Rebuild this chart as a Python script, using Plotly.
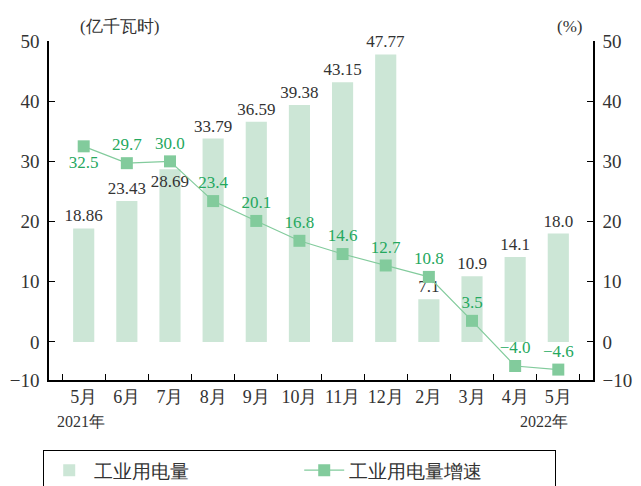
import plotly.graph_objects as go

months = ["5月", "6月", "7月", "8月", "9月", "10月", "11月", "12月", "2月", "3月", "4月", "5月"]
cats = [f"{i}_{m}" for i, m in enumerate(months)]
usage = [18.86, 23.43, 28.69, 33.79, 36.59, 39.38, 43.15, 47.77, 7.1, 10.9, 14.1, 18.0]
usage_text = ["18.86", "23.43", "28.69", "33.79", "36.59", "39.38", "43.15", "47.77", "7.1", "10.9", "14.1", "18.0"]
usage_pos = ["outside", "outside", "inside"] + ["outside"] * 9
growth = [32.5, 29.7, 30.0, 23.4, 20.1, 16.8, 14.6, 12.7, 10.8, 3.5, -4.0, -4.6]
growth_text = ["32.5", "29.7", "30.0", "23.4", "20.1", "16.8", "14.6", "12.7", "10.8", "3.5", "−4.0", "−4.6"]
growth_pos = ["bottom center"] + ["top center"] * 11

y_bottom = -6.33
tickvals = [y_bottom, 0, 10, 20, 30, 40, 50]
ticktext = ["−10", "0", "10", "20", "30", "40", "50"]

serif = "Liberation Serif"

fig = go.Figure()
fig.add_trace(go.Bar(
    x=cats, y=usage, name="工业用电量",
    marker=dict(color="#cce6d6", line=dict(width=0)),
    text=usage_text, textposition=usage_pos, constraintext="none",
    insidetextanchor="end", textangle=0,
    textfont=dict(family=serif, size=17, color="#333333"),
    insidetextfont=dict(family=serif, size=17, color="#333333"),
    outsidetextfont=dict(family=serif, size=17, color="#333333"),
    cliponaxis=False, width=0.49,
))
fig.add_trace(go.Scatter(
    x=cats, y=growth, name="工业用电量增速", yaxis="y2",
    mode="lines+markers+text",
    line=dict(color="#82cb9c", width=1.2),
    marker=dict(symbol="square", size=12, color="#82cb9c"),
    text=growth_text, textposition=growth_pos,
    textfont=dict(family=serif, size=17, color="#25a85e"),
    cliponaxis=False,
))

axis_common = dict(
    range=[y_bottom, 50], tickvals=tickvals, ticktext=ticktext,
    showgrid=False, zeroline=False, showline=True, linecolor="#000000", linewidth=1.5,
    ticks="inside", ticklen=6, tickcolor="#000000", tickwidth=1.2,
    tickfont=dict(family=serif, size=19, color="#333333"),
    automargin=False,
)

fig.update_layout(
    width=633, height=478,
    margin=dict(l=41, r=48, t=33, b=106, autoexpand=False),
    paper_bgcolor="white", plot_bgcolor="white",
    font=dict(family=serif),
    showlegend=True,
    bargap=0.5,
    uniformtext=dict(mode=False),
    xaxis=dict(
        tickvals=cats, ticktext=months, tickangle=0,
        showline=True, linecolor="#000000", linewidth=1.5,
        ticks="inside", ticklen=6, tickcolor="#000000", tickson="boundaries",
        tickfont=dict(family=serif, size=18, color="#333333"),
        showgrid=False, automargin=False,
    ),
    yaxis=dict(**axis_common, side="left", ticklabelstandoff=4),
    yaxis2=dict(**axis_common, side="right", overlaying="y", ticklabelstandoff=4),
    legend=dict(
        orientation="h", x=-0.011, y=-0.207, xanchor="left", yanchor="top",
        bordercolor="#000000", borderwidth=1.2,
        font=dict(family=serif, size=19, color="#333333"),
        entrywidth=200, itemwidth=40,
    ),
    annotations=[
        dict(text="(亿千瓦时)", x=0.053, y=1.077, xref="paper", yref="paper",
             showarrow=False, font=dict(family=serif, size=17, color="#333333")),
        dict(text="(%)", x=0.983, y=1.077, xref="paper", yref="paper",
             showarrow=False, font=dict(family=serif, size=17, color="#333333")),
        dict(text="2021年", x=0.011, y=-0.153, xref="paper", yref="paper",
             showarrow=False, font=dict(family=serif, size=16, color="#333333")),
        dict(text="2022年", x=0.958, y=-0.153, xref="paper", yref="paper",
             showarrow=False, font=dict(family=serif, size=16, color="#333333")),
    ],
)

fig.write_html("out.html")
